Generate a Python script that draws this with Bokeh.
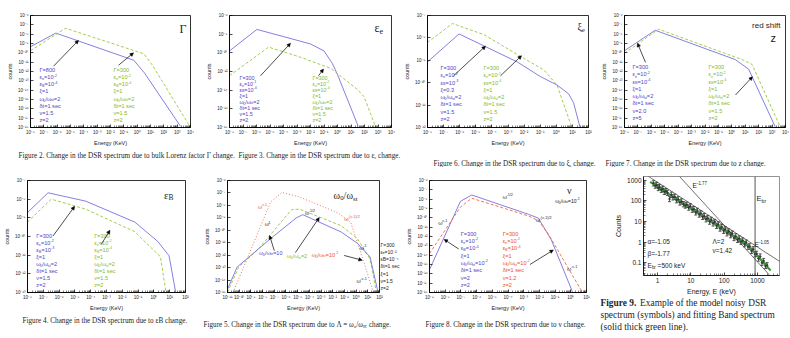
import math
from bokeh.plotting import figure
from bokeh.models import (Range1d, FixedTicker, CustomJSTickFormatter, Label, Arrow,
                          NormalHead, Span, Whisker, TeeHead, ColumnDataSource, LogAxis)
from bokeh.layouts import row, column
from bokeh.embed import file_html
from bokeh.resources import INLINE

SANS = "Liberation Sans"
SERIF = "Liberation Serif"
BLUE, BLUE_T = "#7771dc", "#5046c4"
GREEN, GREEN_T = "#96c83a", "#86b92a"
RED, RED_T = "#f2653f", "#ee4f2a"
INK = "#1e1e1e"

# ---------------- data ----------------
# Figure 2: bulk Lorentz factor
fig2_blue_E = [1e-8, 7.9e-7, 0.56, 3.5, 1.8e3]
fig2_blue_N = [4.5e-10, 1.3e-8, 1.6e-11, 7.1e-13, 1.3e-18]
fig2_green_E = [1e-8, 4.3e-6, 3.2, 13.5, 1e4]
fig2_green_N = [1.7e-10, 4.3e-8, 7.9e-11, 5.0e-12, 1e-18]
# Figure 3: epsilon_e
fig3_blue_E = [1e-8, 1.07e-6, 1.05e-4, 1e-2, 0.1, 0.42, 1.0, 34]
fig3_blue_N = [1.6e-10, 3.2e-8, 5.4e-9, 8.9e-10, 1.6e-10, 7.1e-12, 4.6e-13, 1.4e-18]
fig3_green_E = [1e-8, 7.9e-6, 1.8e-3, 0.31, 30, 95, 690]
fig3_green_N = [3.6e-13, 4.1e-10, 3.4e-11, 2.2e-12, 1.2e-14, 1.9e-15, 1e-18]
# Figure 6: xi_e
fig6_blue_E = [1e-8, 9.1e-7, 3.2e-5, 3.7e-3, 0.10, 1.1, 5.8, 11.7, 30]
fig6_blue_N = [8.5e-10, 1.5e-8, 4.4e-9, 8.5e-10, 1.9e-10, 7.9e-11, 3.2e-11, 1.3e-11, 1e-12]
fig6_green_E = [1e-8, 3.5e-7, 3.2e-5, 5.9e-3, 0.17, 1.1, 9.3]
fig6_green_N = [6.2e-9, 4.4e-8, 1.4e-8, 1.5e-9, 3.7e-10, 7.9e-11, 1e-12]
# Figure 7: red shift
fig7_blue_E = [1e-8, 1.95e-6, 1.8, 17.8, 1.7e3]
fig7_blue_N = [1.7e-10, 2.6e-8, 1.9e-11, 1.8e-12, 1.2e-18]
fig7_green_E = [1e-8, 3.5e-6, 5.8, 32, 4.2e3]
fig7_green_N = [9.1e-11, 3.4e-8, 1.9e-11, 5.8e-12, 1e-18]
# Figure 4: epsilon_B
fig4_blue_E = [1e-8, 2.0e-7, 4.9e-5, 0.062, 1.74, 9.1, 24]
fig4_blue_N = [1.9e-9, 2.2e-8, 7.8e-9, 5.9e-10, 5.5e-11, 9.3e-12, 1e-13]
fig4_green_E = [1e-8, 3.2e-7, 4.9e-5, 0.062, 1.07, 2.6, 5.8]
fig4_green_N = [5.9e-10, 1.0e-8, 2.9e-9, 1.8e-10, 1.7e-11, 8.3e-12, 1e-13]
# Figure 5: omega0 / omega_st
fig5_red_E = [3.0e-11, 5.0e-8, 4.6e-7, 1.45e-5, 0.028, 0.35, 2.3, 30]
fig5_red_N = [1e-15, 1.95e-8, 1.1e-7, 4.7e-8, 2.5e-9, 4.2e-10, 2.1e-12, 1e-15]
fig5_green_E = [1e-11, 9.1e-11, 4.0e-9, 3.0e-6, 1.45e-5, 0.054, 1.26, 15.5, 55]
fig5_green_N = [1e-15, 1.1e-13, 2.8e-12, 4.5e-9, 5.0e-9, 2.3e-10, 2.2e-11, 4.8e-13, 1e-15]
fig5_blue_E = [1e-11, 6.6e-11, 5.0e-8, 7.8e-6, 2.75e-5, 0.054, 1.26, 15.5, 76]
fig5_blue_N = [1.8e-15, 1.1e-13, 2.2e-11, 1.0e-9, 1.8e-9, 7.2e-11, 9.1e-12, 7.2e-13, 1e-15]
# Figure 8: nu
fig8_blue_E = [1e-9, 9.3e-8, 4.9e-7, 2.0e-3, 8.7e-3, 0.058, 1.3]
fig8_blue_N = [2.8e-16, 5.8e-9, 2.8e-8, 2.4e-10, 9.3e-11, 4.2e-13, 1.1e-18]
fig8_red_E = [1e-9, 9.3e-8, 4.9e-7, 2.0e-3, 8.7e-3, 0.036, 5.4]
fig8_red_N = [1.5e-14, 1.4e-9, 1.26e-8, 1.6e-10, 4.9e-11, 2.0e-12, 1.1e-18]
# Figure 9: noisy model spectrum and fits
fig9_E = [0.75, 0.85, 0.95, 1.05, 1.15, 1.3, 1.45, 1.6, 1.8, 2.0, 2.3, 2.6, 2.9, 3.3, 3.7,
          4.2, 4.7, 5.3, 6.0, 6.8, 7.6, 8.6, 9.7, 11, 12.4, 14, 15.8, 17.8, 20, 22.5,
          25.4, 28.7, 32.4, 36.5, 41.2, 46.5, 52.5, 59.2, 66.8, 75.4, 85, 96, 108, 122, 138,
          156, 176, 198, 224, 252, 285, 321, 362, 409, 461, 520, 587, 662, 747, 843,
          951, 1073, 1211, 1366, 1541, 1739, 1962]
fig9_counts = [720, 560, 600, 430, 470, 350, 390, 280, 300, 250, 125, 200, 150, 160, 110,
               120, 85, 95, 70, 60, 66, 48, 55, 38, 40, 28, 33, 22, 25, 17,
               18.5, 13, 14.5, 10, 12, 8.2, 9.5, 6.2, 7.3, 4.6, 5.4, 3.6, 4.2, 2.7, 3.3,
               2.2, 2.6, 1.6, 1.9, 1.3, 1.5, 1.05, 1.2, 0.8, 0.95, 0.6, 0.62, 0.38, 0.45, 0.26,
               0.27, 0.16, 0.2, 0.1, 0.12, 0.07, 0.075]
fig9_rel_err = 0.35
fig9_fit_E = [0.6, 500, 2500]
fig9_fit_N = [850, 0.73, 0.042]
fig9_steep_E = [4.6, 3500]
fig9_steep_N = [1550, 0.012]
fig9_flat_E = [0.5, 4600]
fig9_flat_N = [1690, 0.117]
fig9_Ebr_line = 850

# parameter blocks
P_STD = ["ξ=1", "ω_{0}/ω_{st}=2", "δt=1 sec"]
fig2_blue_txt = ["Γ=800", "ε_{e}=10^{-2}", "ε_{B}=10^{-4}"] + P_STD + ["ν=1.5", "z=2"]
fig2_green_txt = ["Γ=300", "ε_{e}=10^{-2}", "ε_{B}=10^{-4}"] + P_STD + ["ν=1.5", "z=2"]
fig3_blue_txt = ["Γ=300", "ε_{e}=10^{-1}", "ε_{B}=10^{-4}"] + P_STD + ["ν=1.5", "z=2"]
fig3_green_txt = ["Γ=300", "ε_{e}=10^{-2}", "ε_{B}=10^{-4}"] + P_STD + ["ν=1.5", "z=2"]
fig6_blue_txt = ["Γ=300", "ε_{e}=10^{-2}", "ε_{B}=10^{-3}", "ξ=0.3", "ω_{0}/ω_{st}=2", "δt=1 sec", "ν=1.5", "z=2"]
fig6_green_txt = ["Γ=300", "ε_{e}=10^{-2}", "ε_{B}=10^{-4}"] + P_STD + ["ν=1.5", "z=2"]
fig7_blue_txt = ["Γ=300", "ε_{e}=10^{-2}", "ε_{B}=10^{-4}"] + P_STD + ["ν=2.0", "z=5"]
fig7_green_txt = ["Γ=300", "ε_{e}=10^{-2}", "ε_{B}=10^{-4}"] + P_STD + ["ν=1.5", "z=2"]
fig4_blue_txt = ["Γ=300", "ε_{e}=10^{-2}", "ε_{B}=10^{-3}"] + P_STD + ["ν=1.5", "z=2"]
fig4_green_txt = ["Γ=300", "ε_{e}=10^{-2}", "ε_{B}=10^{-4}"] + P_STD + ["ν=1.5", "z=2"]
fig5_side_txt = ["Γ=300", "εₑ=10⁻²", "εB=10⁻⁴", "δt=1 sec", "ξ=1", "ν=1.5", "z=2"]
fig8_blue_txt = ["Γ=300", "ε_{e}=10^{-2}", "ε_{B}=10^{-4}", "ξ=1", "ω_{0}/ω_{st}=10^{-2}", "δt=1 sec", "ν=2", "z=2"]
fig8_red_txt = ["Γ=300", "ε_{e}=10^{-2}", "ε_{B}=10^{-4}", "ξ=1", "ω_{0}/ω_{st}=10^{-2}", "δt=1 sec", "ν=1.2", "z=2"]

# ---------------- helpers ----------------
SANS_W = dict(zip("abcdefghijklmnopqrstuvwxyz",
                  [.556, .556, .5, .556, .556, .278, .556, .556, .222, .222, .5, .222, .833,
                   .556, .556, .556, .556, .333, .5, .278, .556, .5, .722, .5, .5, .5]))
SERIF_W = dict(zip("abcdefghijklmnopqrstuvwxyz",
                   [.444, .5, .444, .5, .444, .333, .5, .5, .278, .278, .5, .278, .778,
                    .5, .5, .5, .5, .333, .389, .278, .5, .5, .722, .5, .5, .444]))
COMMON_W = {" ": .27, ".": .26, ",": .26, "=": .58, "/": .278, "-": .333, "(": .333, ")": .333,
            "ω": .69, "ε": .44, "ν": .5, "ξ": .45, "δ": .55, "α": .58, "β": .57, "Γ": .58, "Λ": .68}


def char_w(c, serif):
    t = SERIF_W if serif else SANS_W
    if c in t:
        return t[c]
    if c in COMMON_W:
        return COMMON_W[c]
    if c.isdigit():
        return .5 if serif else .556
    if c.isupper():
        return .68
    return .55


def text_w(s, fs, serif, bold=False):
    k = (0.97 if serif else 1.0) * (1.08 if bold else 1.0)
    return sum(char_w(c, serif) for c in s) * fs * k


def parse(s):
    segs, buf, i = [], "", 0
    while i < len(s):
        if s[i] in "^_" and i + 1 < len(s) and s[i + 1] == "{":
            if buf:
                segs.append((buf, "n"))
                buf = ""
            j = s.index("}", i)
            segs.append((s[i + 2:j], "sup" if s[i] == "^" else "sub"))
            i = j + 1
        else:
            buf += s[i]
            i += 1
    if buf:
        segs.append((buf, "n"))
    return segs


def to_data(spec, wx, wy):
    fx0, fy0, fx1, fy1 = spec["frame"]
    (x0, x1), (y0, y1) = spec["xr"], spec["yr"]
    tx = (wx - fx0) / (fx1 - fx0)
    ty = (fy1 - wy) / (fy1 - fy0)
    if spec["xlog"]:
        x = 10 ** (math.log10(x0) + tx * (math.log10(x1) - math.log10(x0)))
    else:
        x = x0 + tx * (x1 - x0)
    if spec["ylog"]:
        y = 10 ** (math.log10(y0) + ty * (math.log10(y1) - math.log10(y0)))
    else:
        y = y0 + ty * (y1 - y0)
    return x, y


def rich(p, spec, wx, wy, s, fs, color, font=SANS, bold=False, align="left"):
    serif = font == SERIF
    segs = parse(s)
    sizes = [fs if k == "n" else fs * 0.68 for _, k in segs]
    widths = [text_w(t, sz, serif, bold) for (t, _), sz in zip(segs, sizes)]
    total = sum(widths)
    x, y = to_data(spec, wx, wy)
    if len(segs) == 1 and segs[0][1] == "n":
        p.add_layout(Label(x=x, y=y, text=segs[0][0], text_font_size=f"{fs:.2f}px",
                           text_color=color, text_font=font,
                           text_font_style="bold" if bold else "normal",
                           text_baseline="middle", text_align=align))
        return total
    off = 0.0 if align == "left" else (-total if align == "right" else -total / 2)
    for (t, k), sz, w in zip(segs, sizes, widths):
        yo = 0.0 if k == "n" else (0.38 * fs if k == "sup" else -0.28 * fs)
        lead = len(t) - len(t.lstrip(" "))
        lead_w = text_w(" " * lead, sz, serif, bold)
        p.add_layout(Label(x=x, y=y, x_offset=off + lead_w, y_offset=yo, text=t.strip(" "),
                           text_font_size=f"{sz:.2f}px", text_color=color, text_font=font,
                           text_font_style="bold" if bold else "normal",
                           text_baseline="middle", text_align="left"))
        off += w
    return total


def block(p, spec, x, y0, step, lines, color, fs=5.6):
    for i, s in enumerate(lines):
        rich(p, spec, x, y0 + i * step, s, fs, color)


def arrow(p, spec, w0, w1):
    x0, y0 = to_data(spec, *w0)
    x1, y1 = to_data(spec, *w1)
    p.add_layout(Arrow(x_start=x0, y_start=y0, x_end=x1, y_end=y1, line_width=0.7,
                       line_color="black",
                       end=NormalHead(size=3.5, fill_color="black", line_color="black",
                                      line_width=0.5)))


def decades(a, b, step=1):
    return [10.0 ** k for k in range(a, b + 1, step)]


def minors(a, b):
    return [m * 10.0 ** k for k in range(a, b) for m in range(2, 10)]


SUP_JS = """
const m = {"-": "\u207b", "0": "\u2070", "1": "\u00b9", "2": "\u00b2", "3": "\u00b3",
           "4": "\u2074", "5": "\u2075", "6": "\u2076", "7": "\u2077", "8": "\u2078", "9": "\u2079"};
const e = Math.round(Math.log10(tick));
let s = "";
for (const c of String(e)) { s += m[c]; }
return "10" + s;
"""
PLAIN_JS = "return tick >= 1 ? tick.toFixed(0) : String(tick);"


def panel(win, frame, xr, yr, xt, yt, xmin, ylabel="counts", xlabel="Energy (KeV)",
          js=SUP_JS, tick_fs=4.5, lab_fs=5.5, ymin=None):
    wx0, wy0, W, H = win
    fx0, fy0, fx1, fy1 = frame
    p = figure(width=W, height=H, x_axis_type="log", y_axis_type="log",
               x_range=Range1d(*xr), y_range=Range1d(*yr),
               output_backend="svg", toolbar_location=None, tools="",
               min_border_left=fx0 - wx0, min_border_right=wx0 + W - fx1,
               min_border_top=fy0 - wy0, min_border_bottom=wy0 + H - fy1,
               outline_line_color="black", outline_line_width=0.8,
               background_fill_color="white", border_fill_color="white")
    p.grid.visible = False
    for ax, ticks, mn, lab in ((p.xaxis[0], xt, xmin, xlabel), (p.yaxis[0], yt, ymin, ylabel)):
        ax.ticker = FixedTicker(ticks=ticks, minor_ticks=mn or [])
        ax.formatter = CustomJSTickFormatter(code=js)
        ax.major_tick_in = 3
        ax.major_tick_out = 0
        ax.minor_tick_in = 2
        ax.minor_tick_out = 0
        ax.major_label_standoff = 2
        ax.major_label_text_font = SANS
        ax.major_label_text_font_size = f"{tick_fs}px"
        ax.major_label_text_color = "#222"
        ax.axis_line_color = "black"
        ax.axis_line_width = 0.8
        ax.major_tick_line_width = 0.7
        ax.minor_tick_line_width = 0.5
        if lab:
            ax.axis_label = lab
            ax.axis_label_standoff = 2
            ax.axis_label_text_font = SANS
            ax.axis_label_text_font_size = f"{lab_fs}px"
            ax.axis_label_text_font_style = "normal"
            ax.axis_label_text_color = "#222"
    spec = dict(frame=frame, xr=xr, yr=yr, xlog=True, ylog=True)
    return p, spec


def blank(win):
    wx0, wy0, W, H = win
    p = figure(width=W, height=H, x_axis_type=None, y_axis_type=None,
               x_range=Range1d(wx0, wx0 + W), y_range=Range1d(wy0 + H, wy0),
               output_backend="svg", toolbar_location=None, tools="", min_border=0,
               outline_line_color=None, background_fill_color="white",
               border_fill_color="white")
    spec = dict(frame=(wx0, wy0, wx0 + W, wy0 + H), xr=(wx0, wx0 + W), yr=(wy0 + H, wy0),
                xlog=False, ylog=False)
    return p, spec


DASH = "3 2"

# ---------------- Figure 2 ----------------
p1, s1 = panel((0, 0, 200, 150), (30, 10, 190, 127), (1e-8, 1e4), (1e-18, 1e-6),
               decades(-8, 4), decades(-18, -6), minors(-8, 4))
p1.line(fig2_blue_E, fig2_blue_N, line_color=BLUE, line_width=0.9)
p1.line(fig2_green_E, fig2_green_N, line_color=GREEN, line_width=0.9, line_dash=DASH)
block(p1, s1, 39, 67, 7.43, fig2_blue_txt, BLUE_T)
block(p1, s1, 113, 67, 7.43, fig2_green_txt, GREEN_T)
arrow(p1, s1, (53, 63), (78, 36))
arrow(p1, s1, (118, 62), (133, 49))
rich(p1, s1, 179, 24, "Γ", 12, INK, font=SERIF)

# ---------------- Figure 3 ----------------
p2, s2 = panel((200, 0, 200, 150), (229, 10, 391, 127), (1e-8, 1e4), (1e-18, 1e-6),
               decades(-8, 4), decades(-18, -6, 2), minors(-8, 4))
p2.line(fig3_blue_E, fig3_blue_N, line_color=BLUE, line_width=0.9)
p2.line(fig3_green_E, fig3_green_N, line_color=GREEN, line_width=0.9, line_dash=DASH)
block(p2, s2, 239, 75, 6.3, fig3_blue_txt, BLUE_T, fs=5.4)
block(p2, s2, 312, 75, 6.3, fig3_green_txt, GREEN_T, fs=5.4)
arrow(p2, s2, (260, 73), (290, 39))
arrow(p2, s2, (318, 73), (323, 66))
rich(p2, s2, 374, 23, "ε_{e}", 12, INK, font=SERIF)

# ---------------- Figure 6 ----------------
p3, s3 = panel((400, 0, 197, 150), (427, 15, 588, 132), (1e-8, 1e2), (1e-12, 1e-7),
               decades(-8, 2), decades(-12, -7), minors(-8, 2))
p3.line(fig6_blue_E, fig6_blue_N, line_color=BLUE, line_width=0.9)
p3.line(fig6_green_E, fig6_green_N, line_color=GREEN, line_width=0.9, line_dash=DASH)
block(p3, s3, 440, 70, 7.57, fig6_blue_txt, BLUE_T)
block(p3, s3, 483, 70, 7.57, fig6_green_txt, GREEN_T)
arrow(p3, s3, (453, 78), (485, 47))
arrow(p3, s3, (500, 78), (521, 57))
rich(p3, s3, 577, 27, "ξ_{e}", 10, INK, font=SERIF)

# ---------------- Figure 7 ----------------
p4, s4 = panel((597, 0, 193, 150), (624, 14, 785, 131), (1e-8, 1e4), (1e-18, 1e-6),
               decades(-8, 4), decades(-18, -6), minors(-8, 4))
p4.line(fig7_blue_E, fig7_blue_N, line_color=BLUE, line_width=0.9)
p4.line(fig7_green_E, fig7_green_N, line_color=GREEN, line_width=0.9, line_dash=DASH)
block(p4, s4, 632, 68, 7.57, fig7_blue_txt, BLUE_T)
block(p4, s4, 708, 68, 7.57, fig7_green_txt, GREEN_T)
arrow(p4, s4, (645, 63), (637, 43))
arrow(p4, s4, (735, 97), (752, 78))
rich(p4, s4, 780, 24, "red shift", 8, INK, align="right")
rich(p4, s4, 770, 37, "z", 11, INK)

# ---------------- Figure 4 ----------------
p5, s5 = panel((0, 167, 200, 149), (24, 175, 185, 292), (1e-8, 1e2), (1e-13, 1e-7),
               decades(-8, 2), decades(-13, -7), minors(-8, 2))
p5.line(fig4_blue_E, fig4_blue_N, line_color=BLUE, line_width=0.9)
p5.line(fig4_green_E, fig4_green_N, line_color=GREEN, line_width=0.9, line_dash=DASH)
block(p5, s5, 33, 233, 7.3, fig4_blue_txt, BLUE_T)
block(p5, s5, 92, 233, 7.3, fig4_green_txt, GREEN_T)
arrow(p5, s5, (50, 233), (72, 202))
arrow(p5, s5, (99, 242), (108, 227))
rich(p5, s5, 163, 190, "ε_{B}", 11, INK, font=SERIF)

# ---------------- Figure 5 ----------------
p6, s6 = panel((200, 167, 202, 149), (221, 174, 380, 292), (1e-11, 1e2), (1e-15, 1e-6),
               decades(-11, 2), decades(-15, -6), minors(-11, 2))
p6.line(fig5_red_E, fig5_red_N, line_color=RED, line_width=0.9, line_dash="1 2")
p6.line(fig5_green_E, fig5_green_N, line_color=GREEN, line_width=0.9, line_dash=DASH)
p6.line(fig5_blue_E, fig5_blue_N, line_color=BLUE, line_width=0.9)
rich(p6, s6, 253, 202, "ω^{ν-1}", 5.5, RED_T)
rich(p6, s6, 260, 220, "ω^{1}", 5.5, INK)
rich(p6, s6, 302, 208, "ω^{-1/2}", 5.5, INK)
rich(p6, s6, 343, 215, "ω^{-(ν-1)/2}", 5.5, RED_T)
rich(p6, s6, 359, 245, "ω^{-1}", 5.5, INK)
rich(p6, s6, 356, 280, "ω^{-ν-1}", 5.5, INK)
rich(p6, s6, 254, 250, "ω_{0}/ω_{st}=10", 5.5, BLUE_T)
rich(p6, s6, 283, 254, "ω_{0}/ω_{st}=2", 5.5, GREEN_T)
rich(p6, s6, 309, 252, "ω_{0}/ω_{st}=10^{-2}", 5.5, RED_T)
arrow(p6, s6, (270, 248), (265, 232))
arrow(p6, s6, (292, 250), (317, 213))
arrow(p6, s6, (343, 253), (362, 258))
rich(p6, s6, 332, 190, "ω_{0}/ω_{st}", 10, INK, font=SERIF)
# parameter column to the right of the frame, drawn as the tick labels of a right axis
side_ticks = [to_data(s6, 380, 242 + i * 7.5)[1] for i in range(len(fig5_side_txt))]
side_ticks.reverse()
side_axis = LogAxis(ticker=FixedTicker(ticks=side_ticks, minor_ticks=[]),
                    formatter=CustomJSTickFormatter(args=dict(labels=list(reversed(fig5_side_txt))),
                                                    code="return labels[index];"),
                    axis_line_color=None, major_tick_in=0, major_tick_out=0,
                    minor_tick_in=0, minor_tick_out=0, major_label_standoff=1,
                    major_label_text_font=SANS, major_label_text_font_size="5px",
                    major_label_text_color=INK)
p6.add_layout(side_axis, "right")

# ---------------- Figure 8 ----------------
p7, s7 = panel((402, 167, 188, 149), (425, 180, 586, 296), (1e-9, 1e1), (1e-18, 1e-6),
               decades(-9, 1), decades(-18, -6), minors(-9, 1))
p7.line(fig8_blue_E, fig8_blue_N, line_color=BLUE, line_width=0.9)
p7.line(fig8_red_E, fig8_red_N, line_color=RED, line_width=0.9, line_dash="3 2")
block(p7, s7, 457, 235, 7.6, fig8_blue_txt, BLUE_T)
block(p7, s7, 500, 235, 7.6, fig8_red_txt, RED_T)
arrow(p7, s7, (455, 251), (440, 241))
arrow(p7, s7, (528, 267), (552, 252))
rich(p7, s7, 434, 224, "ω^{ν-1}", 5.5, INK)
rich(p7, s7, 500, 197, "ω^{-1/2}", 5.5, INK)
rich(p7, s7, 534, 221, "ω^{-(ν-1)/2}", 5.5, INK)
rich(p7, s7, 566, 272, "ω^{-ν-1}", 5.5, INK)
rich(p7, s7, 566, 190, "ν", 10, INK, font=SERIF)
rich(p7, s7, 554, 201, "ω_{0}/ω_{st}=10^{-2}", 5.0, INK)

# ---------------- Figure 9 ----------------
p8, s8 = panel((590, 167, 200, 130), (643, 176, 779, 275), (0.38, 4600), (0.024, 1550),
               [1, 10, 100, 1000], [0.1, 1, 10, 100, 1000], minors(-1, 4),
               ylabel="Counts", xlabel="Energy, E (keV)", js=PLAIN_JS, tick_fs=6.5,
               lab_fs=7, ymin=minors(-2, 4))
p8.outline_line_color = "#777"
p8.line(fig9_steep_E, fig9_steep_N, line_color="#333", line_width=0.7)
p8.line(fig9_flat_E, fig9_flat_N, line_color="#333", line_width=0.7)
p8.line(fig9_fit_E, fig9_fit_N, line_color="#3a9a3a", line_width=2)
p8.add_layout(Span(location=fig9_Ebr_line, dimension="height", line_color="#555", line_width=1))
src9 = ColumnDataSource(dict(E=fig9_E, N=fig9_counts,
                             hi=[c * (1 + fig9_rel_err) for c in fig9_counts],
                             lo=[c / (1 + fig9_rel_err) for c in fig9_counts]))
p8.add_layout(Whisker(source=src9, base="E", upper="hi", lower="lo", line_color="#333",
                      line_width=0.8,
                      upper_head=TeeHead(size=3, line_color="#333", line_width=0.8),
                      lower_head=TeeHead(size=3, line_color="#333", line_width=0.8)))
p8.scatter("E", "N", source=src9, size=1.5, color="#333")
rich(p8, s8, 692, 185, "E^{-1.77}", 6.5, INK)
rich(p8, s8, 756, 198, "E_{br}", 7.5, INK)
rich(p8, s8, 754, 244, "E^{-1.05}", 6.5, INK)
rich(p8, s8, 647, 241, "α=-1.05", 6.5, INK)
rich(p8, s8, 647, 253, "β=-1.77", 6.5, INK)
rich(p8, s8, 647, 265, "E_{br} =500 keV", 6.5, INK)
rich(p8, s8, 712, 241, "Λ=2", 6.5, INK)
rich(p8, s8, 712, 250, "ν=1.42", 6.5, INK)

# ---------------- captions (single text runs, unicode sub-scripts) ----------------
CF = 7.2
cap_top, ct = blank((0, 150, 790, 17))
rich(cap_top, ct, 18, 155, "Figure 2.  Change in the DSR spectrum due to bulk Lorenz factor Γ change.", CF, INK, font=SERIF)
rich(cap_top, ct, 238, 155, "Figure 3.  Change in the DSR spectrum due to εₑ change.", CF, INK, font=SERIF)
rich(cap_top, ct, 433, 163, "Figure 6.  Change in the DSR spectrum due to ξₑ change.", CF, INK, font=SERIF)
rich(cap_top, ct, 605, 163, "Figure 7.  Change in the DSR spectrum due to z change.", CF, INK, font=SERIF)

cap_bot, cb = blank((0, 316, 590, 22))
rich(cap_bot, cb, 22, 320, "Figure 4.  Change in the DSR spectrum due to εB change.", CF, INK, font=SERIF)
rich(cap_bot, cb, 203, 324, "Figure 5.  Change in the DSR spectrum due to Λ = ω₀/ωₛₜ change.", CF, INK, font=SERIF)
rich(cap_bot, cb, 425, 324, "Figure 8.  Change in the DSR spectrum due to ν change.", CF, INK, font=SERIF)

cap9, c9 = blank((590, 297, 200, 41))
F9 = 9.4
w = rich(cap9, c9, 600, 302, "Figure 9.", F9, INK, font=SERIF, bold=True)
rich(cap9, c9, 600 + w + 2.5, 302, "Example of the model noisy DSR", F9, INK, font=SERIF)
rich(cap9, c9, 600, 314, "spectrum (symbols) and fitting Band spectrum", F9, INK, font=SERIF)
rich(cap9, c9, 600, 326, "(solid thick green line).", F9, INK, font=SERIF)

layout = column(
    row(p1, p2, p3, p4),
    cap_top,
    row(column(row(p5, p6, p7), cap_bot), column(row(p8), cap9)),
)

open("out.html", "w").write(file_html(layout, INLINE, title="DSR spectra"))
